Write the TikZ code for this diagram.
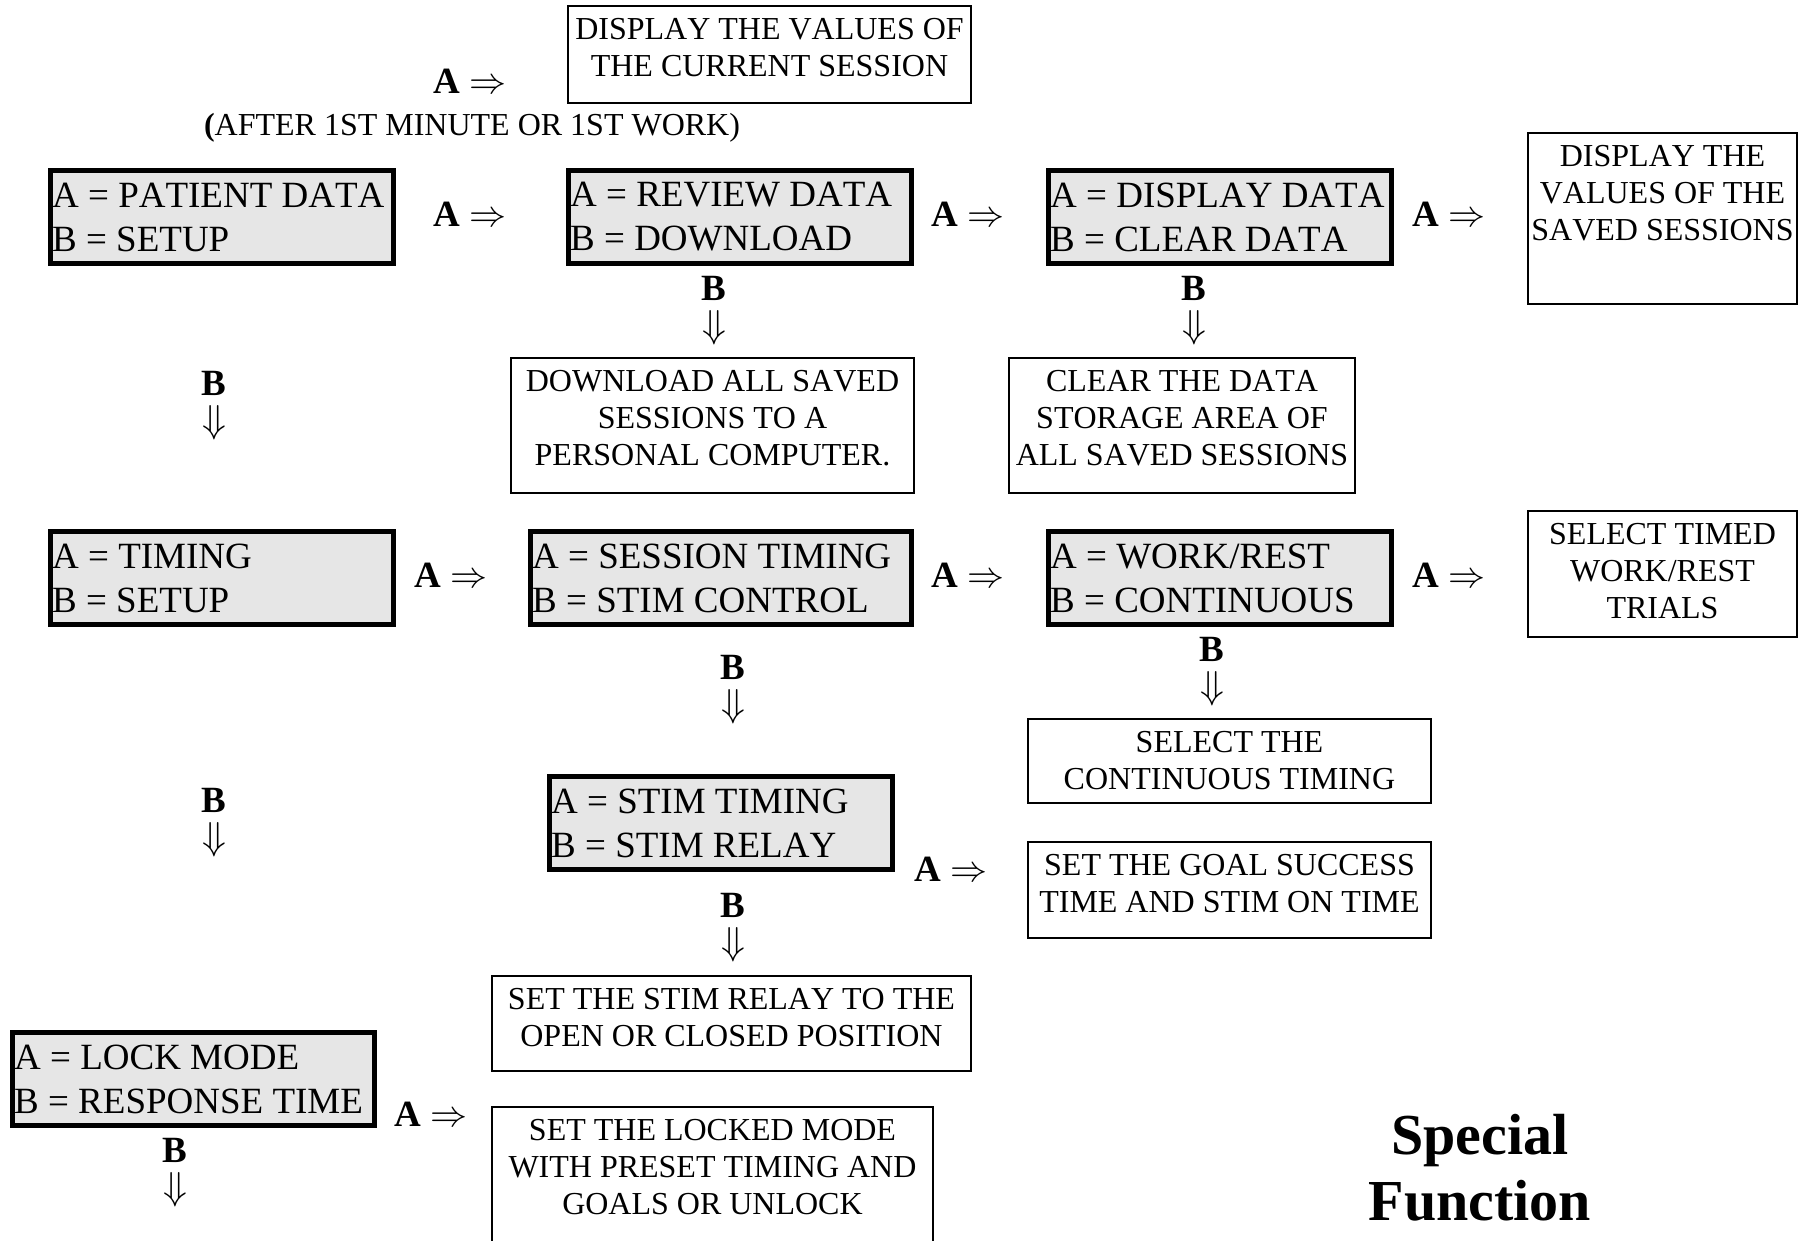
\documentclass[tikz,border=0pt]{standalone}
\usepackage{fontspec}
\usepackage{graphicx}
\setmainfont{Liberation Serif}[Kerning=Off]
\definecolor{boxgray}{HTML}{E6E6E6}
\newcommand{\RA}{{\fontsize{10}{12}\selectfont\raisebox{0.2pt}{\scalebox{3.7}{$\Rightarrow$}}}}
\newcommand{\DA}{{\fontsize{10}{12}\selectfont\scalebox{3.9}{$\Downarrow$}}}
\begin{document}
\begin{tikzpicture}[x=1pt,y=-1pt,
  graybox/.style={draw, line width=5pt, fill=boxgray, rectangle, inner sep=0pt},
  graytext/.style={anchor=west, inner sep=0pt, xshift=4pt, align=left, font=\fontsize{37}{44}\selectfont},
  whitebox/.style={draw, line width=1.6pt, rectangle, inner sep=0pt},
  boxtext/.style={anchor=north, inner sep=0pt, align=center, yshift=-13pt, font=\fontsize{32}{37}\selectfont},
  alabel/.style={inner sep=0pt, font=\fontsize{37}{44}\selectfont\bfseries},
  bdown/.style={anchor=north, inner sep=0pt, align=center, font=\fontsize{37}{37.5}\selectfont},
  title/.style={inner sep=0pt, align=center, font=\fontsize{58}{66}\selectfont\bfseries}]
\clip (0,0) rectangle (1807,1241);
\fill[white] (0,0) rectangle (1807,1241);

% gray menu boxes
\node[graybox, minimum width=343, minimum height=93] (g1) at (222,217) {};
\node[graytext] (g1t) at (g1.west) {A = PATIENT DATA\\B = SETUP};
\node[graybox, minimum width=343, minimum height=93] (g2) at (740,217) {};
\node[graytext] (g2t) at (g2.west) {A = REVIEW DATA\\B = DOWNLOAD};
\node[graybox, minimum width=343, minimum height=93] (g3) at (1220,217) {};
\node[graytext] (g3t) at (g3.west) {A = DISPLAY DATA\\B = CLEAR DATA};
\node[graybox, minimum width=343, minimum height=93] (g4) at (222,578) {};
\node[graytext] (g4t) at (g4.west) {A = TIMING\\B = SETUP};
\node[graybox, minimum width=381, minimum height=93] (g5) at (721,578) {};
\node[graytext] (g5t) at (g5.west) {A = SESSION TIMING\\B = STIM CONTROL};
\node[graybox, minimum width=343, minimum height=93] (g6) at (1220,578) {};
\node[graytext] (g6t) at (g6.west) {A = WORK/REST\\B = CONTINUOUS};
\node[graybox, minimum width=343, minimum height=93] (g7) at (721,823) {};
\node[graytext] (g7t) at (g7.west) {A = STIM TIMING\\B = STIM RELAY};
\node[graybox, minimum width=362, minimum height=93] (g8) at (193.5,1079) {};
\node[graytext] (g8t) at (g8.west) {A = LOCK MODE\\B = RESPONSE TIME};

% white result boxes
\node[whitebox, minimum width=403, minimum height=97] (w1) at (769.5,54.5) {};
\node[boxtext] (w1t) at (w1.north) {DISPLAY THE VALUES OF\\THE CURRENT SESSION};
\node[whitebox, minimum width=269, minimum height=171] (w2) at (1662.5,218.5) {};
\node[boxtext] (w2t) at (w2.north) {DISPLAY THE\\VALUES OF THE\\SAVED SESSIONS};
\node[whitebox, minimum width=403, minimum height=135] (w3) at (712.5,425.5) {};
\node[boxtext] (w3t) at (w3.north) {DOWNLOAD ALL SAVED\\SESSIONS TO A\\PERSONAL COMPUTER.};
\node[whitebox, minimum width=346, minimum height=135] (w4) at (1182,425.5) {};
\node[boxtext] (w4t) at (w4.north) {CLEAR THE DATA\\STORAGE AREA OF\\ALL SAVED SESSIONS};
\node[whitebox, minimum width=269, minimum height=126] (w5) at (1662.5,574) {};
\node[boxtext] (w5t) at (w5.north) {SELECT TIMED\\WORK/REST\\TRIALS};
\node[whitebox, minimum width=403, minimum height=84] (w6) at (1229.5,761) {};
\node[boxtext] (w6t) at (w6.north) {SELECT THE\\CONTINUOUS TIMING};
\node[whitebox, minimum width=403, minimum height=96] (w7) at (1229.5,890) {};
\node[boxtext] (w7t) at (w7.north) {SET THE GOAL SUCCESS\\TIME AND STIM ON TIME};
\node[whitebox, minimum width=479, minimum height=95] (w8) at (731.5,1023.5) {};
\node[boxtext] (w8t) at (w8.north) {SET THE STIM RELAY TO THE\\OPEN OR CLOSED POSITION};
\node[whitebox, minimum width=441, minimum height=160] (w9) at (712.5,1187) {};
\node[boxtext] (w9t) at (w9.north) {SET THE LOCKED MODE\\WITH PRESET TIMING AND\\GOALS OR UNLOCK};

% A => labels
\node[alabel] (a0) at (470,81) {A \RA};
\node[inner sep=0pt, font=\fontsize{32}{37}\selectfont] (after) at (472,128) {\textbf{(}AFTER 1ST MINUTE OR 1ST WORK)};
\node[alabel] (a1) at (470,214) {A \RA};
\node[alabel] (a2) at (968,214) {A \RA};
\node[alabel] (a3) at (1449,214) {A \RA};
\node[alabel] (a4) at (451,575) {A \RA};
\node[alabel] (a5) at (968,575) {A \RA};
\node[alabel] (a6) at (1449,575) {A \RA};
\node[alabel] (a7) at (951,869) {A \RA};
\node[alabel] (a8) at (431,1114) {A \RA};

% B and down arrows
\node[bdown] (b1) at (714,276) {\textbf{B}\\\DA};
\node[bdown] (b2) at (1194,276) {\textbf{B}\\\DA};
\node[bdown] (b3) at (214,371) {\textbf{B}\\\DA};
\node[bdown] (b4) at (733,655) {\textbf{B}\\\DA};
\node[bdown] (b5) at (1212,637) {\textbf{B}\\\DA};
\node[bdown] (b6) at (214,788) {\textbf{B}\\\DA};
\node[bdown] (b7) at (733,893) {\textbf{B}\\\DA};
\node[bdown] (b8) at (175,1138) {\textbf{B}\\\DA};

% title
\node[title] (ttl) at (1480,1168) {Special\\Function};
\end{tikzpicture}
\end{document}
